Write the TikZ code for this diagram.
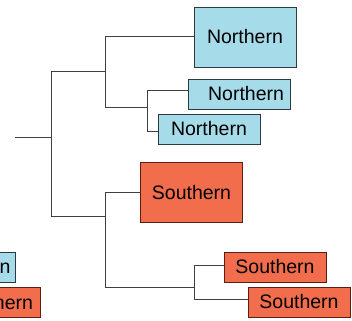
\documentclass[tikz,border=0pt]{standalone}
\usepackage{fontspec}
\setsansfont{Liberation Sans}
\usepackage{tikz}
\definecolor{northfill}{HTML}{A6DCE9}
\definecolor{northline}{HTML}{2B3B40}
\definecolor{southfill}{HTML}{F26D4B}
\definecolor{southline}{HTML}{5C1E10}

\begin{document}
\begin{tikzpicture}[
  x=1pt,y=-1pt,
  clade/.style={draw,inner sep=0pt,minimum width=102pt,minimum height=30pt,
    font=\sffamily\fontsize{19.5}{22}\selectfont},
  north/.style={clade,fill=northfill,draw=northline},
  south/.style={clade,fill=southfill,draw=southline},
  big/.style={minimum height=60pt},
  pad/.style={text width=#1,align=right},
  link/.style={draw=black!75,line width=1pt}
]
  \clip (0,0) rectangle (352,320);
  % leaves
  \node[north,big] (n1) at (245,37) {Northern};
  \node[north,pad=90pt] (n2) at (239,94) {Northern};
  \node[north] (n3) at (209,129) {Northern};
  \node[south,big] (s1) at (191.5,192.5) {Southern};
  \node[south] (s2) at (275,267) {Southern};
  \node[south] (s3) at (299,302) {Southern};
  % cut at the left edge
  \node[north,pad=93pt] (pn) at (-36,267) {Northern};
  \node[south,pad=88pt] (ps) at (-11,302.5) {Southern};
  % junctions
  \coordinate (root) at (15,138);
  \coordinate (jr) at (51,138);
  \coordinate (jn) at (105,72);
  \coordinate (jnn) at (147,108);
  \coordinate (js) at (105,216);
  \coordinate (jss) at (194,287);
  \draw[link] (root) -- (jr);
  \draw[link] (jr) |- (jn);
  \draw[link] (jr) |- (js);
  \draw[link] (jn) |- (n1);
  \draw[link] (jn) |- (jnn);
  \draw[link] (jnn) |- ([yshift=3pt]n2.west);
  \draw[link] (jnn) |- ([yshift=-3pt]n3.west);
  \draw[link] (js) |- (s1);
  \draw[link] (js) |- (jss);
  \draw[link] (jss) |- ([yshift=2pt]s2.west);
  \draw[link] (jss) |- ([yshift=3pt]s3.west);
\end{tikzpicture}
\end{document}
